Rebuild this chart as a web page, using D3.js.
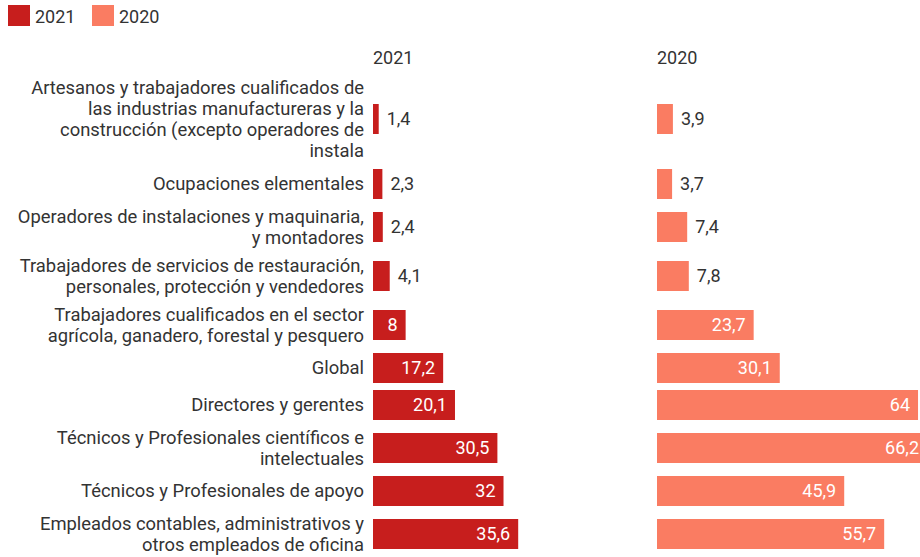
<!DOCTYPE html>
<html>
<head>
<meta charset="utf-8">
<script src="https://cdn.jsdelivr.net/npm/d3@7"></script>
<style>
  html, body { margin: 0; padding: 0; background: #fff; }
  svg { display: block; font-family: Roboto, "Noto Sans", sans-serif; }
</style>
</head>
<body>
<svg id="chart" width="920" height="557"></svg>
<script>
const categories = [
  "Artesanos y trabajadores cualificados de\nlas industrias manufactureras y la\nconstrucción (excepto operadores de\ninstala",
  "Ocupaciones elementales",
  "Operadores de instalaciones y maquinaria,\ny montadores",
  "Trabajadores de servicios de restauración,\npersonales, protección y vendedores",
  "Trabajadores cualificados en el sector\nagrícola, ganadero, forestal y pesquero",
  "Global",
  "Directores y gerentes",
  "Técnicos y Profesionales científicos e\nintelectuales",
  "Técnicos y Profesionales de apoyo",
  "Empleados contables, administrativos y\notros empleados de oficina"
];
const values2021 = [1.4, 2.3, 2.4, 4.1, 8, 17.2, 20.1, 30.5, 32, 35.6];
const values2020 = [3.9, 3.7, 7.4, 7.8, 23.7, 30.1, 64, 66.2, 45.9, 55.7];
const seriesNames = ["2021", "2020"];
const seriesColors = ["#c71e1d", "#fa7c62"];

const svg = d3.select("#chart");
const fmt = v => String(v).replace(".", ",");
const FS = 18;
const LFS = 18.4;
const textColor = "#333";

// legend
const legend = svg.append("g");
const legendX = [8, 92];
seriesNames.forEach((s, i) => {
  legend.append("rect").attr("x", legendX[i]).attr("y", 5).attr("width", 22).attr("height", 21).attr("fill", seriesColors[i]);
  legend.append("text").attr("x", legendX[i] + 27).attr("y", 23).attr("font-size", FS).attr("fill", textColor).text(s);
});

// layout rows
const lineH = 21, barH = 30, gap = 7;
const lines = categories.map(c => c.split("\n"));
let y0 = 76;
const rows = lines.map(ls => {
  const h = Math.max(barH, ls.length * lineH + (ls.length > 2 ? 2 : 0));
  const r = { top: y0, h, center: y0 + h / 2 };
  y0 += h + gap;
  return r;
});

const x = d3.scaleLinear().domain([0, 66.2]).range([0, 270]);
const panels = [
  { name: "2021", x0: 373, values: values2021, color: seriesColors[0] },
  { name: "2020", x0: 657, values: values2020, color: seriesColors[1] }
];

// labels
const labelX = 364;
const lab = svg.append("g").attr("font-size", LFS).attr("fill", textColor).attr("text-anchor", "end");
lines.forEach((ls, i) => {
  const r = rows[i];
  const startY = r.center - (ls.length - 1) * lineH / 2;
  ls.forEach((l, j) => {
    lab.append("text").attr("x", labelX).attr("y", startY + j * lineH).attr("dy", "0.35em").text(l);
  });
});

panels.forEach(p => {
  const g = svg.append("g").attr("transform", `translate(${p.x0},0)`);
  g.append("text").attr("x", 0).attr("y", 64).attr("font-size", FS).attr("fill", textColor).text(p.name);
  p.values.forEach((v, i) => {
    const r = rows[i];
    const w = x(v);
    g.append("rect").attr("x", 0).attr("y", r.center - barH / 2).attr("width", w).attr("height", barH).attr("fill", p.color);
    const t = g.append("text").attr("y", r.center).attr("dy", "0.35em").attr("font-size", FS).text(fmt(v));
    const tw = t.node().getComputedTextLength();
    if (tw + 16 <= w) {
      t.attr("x", w - 8).attr("text-anchor", "end").attr("fill", "#fff");
    } else {
      t.attr("x", w + 8).attr("text-anchor", "start").attr("fill", textColor);
    }
  });
});
</script>
</body>
</html>
